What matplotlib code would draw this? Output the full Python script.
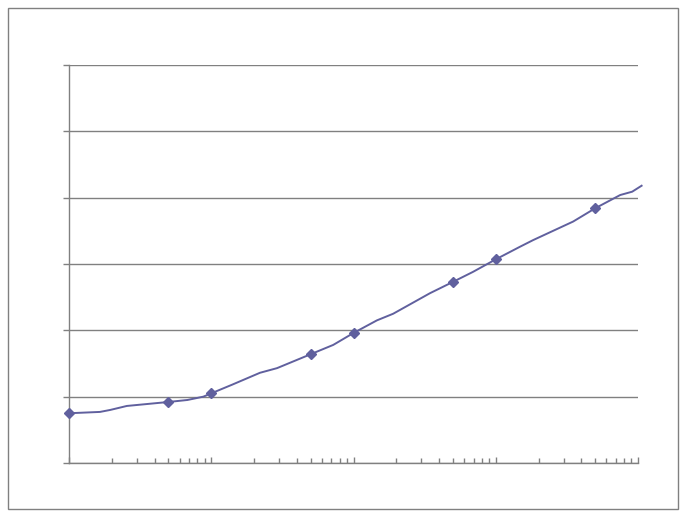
import matplotlib
matplotlib.use('Agg')
import matplotlib.pyplot as plt
from matplotlib.ticker import LogLocator, NullFormatter, MultipleLocator

# values (log x, linear y)
x_vals = [1, 1.65, 1.95, 2.55, 5, 6.8, 8.8, 10, 14, 22, 29, 50, 72, 100,
          146, 190, 345, 500, 690, 1000, 1480, 1830, 3500, 5000, 7500, 9100, 10600]
y_vals = [0.75, 0.77, 0.80, 0.86, 0.92, 0.95, 1.00, 1.05, 1.18, 1.36, 1.43, 1.64,
          1.78, 1.96, 2.15, 2.25, 2.56, 2.73, 2.88, 3.07, 3.26, 3.36, 3.64, 3.84,
          4.04, 4.09, 4.18]
marker_idx = [0, 4, 7, 11, 13, 17, 19, 23]

grey = '#808080'
line_col = '#60609e'

fig = plt.figure(figsize=(6.8, 5.12), dpi=100)
ax = fig.add_axes([69/680, 49/512, 569/680, 398/512])

ax.plot(x_vals, y_vals, color=line_col, lw=1.4, marker='D', ms=5.2,
        markevery=marker_idx, clip_on=False, zorder=3)

ax.set_xscale('log')
ax.set_xlim(1, 1e4)
ax.set_ylim(0, 6)

ax.yaxis.set_major_locator(MultipleLocator(1))
ax.grid(axis='y', color=grey, lw=1.0)
ax.set_axisbelow(True)

ax.xaxis.set_major_locator(LogLocator(base=10, numticks=10))
ax.xaxis.set_minor_locator(LogLocator(base=10, subs=range(2, 10), numticks=10))
ax.xaxis.set_major_formatter(NullFormatter())
ax.xaxis.set_minor_formatter(NullFormatter())
ax.yaxis.set_major_formatter(NullFormatter())

ax.tick_params(axis='x', which='major', direction='in', length=4.5, width=1, color=grey)
ax.tick_params(axis='x', which='minor', direction='in', length=3.5, width=1, color=grey)
ax.tick_params(axis='y', direction='out', length=4.5, width=1, color=grey)

ax.spines['top'].set_visible(False)
ax.spines['right'].set_visible(False)
for s in ['left', 'bottom']:
    ax.spines[s].set_color(grey)
    ax.spines[s].set_linewidth(1.0)

# outer frame around the chart area
fig.patches.append(plt.Rectangle((8/680, 3/512), 670/680, 501/512,
                                 transform=fig.transFigure, fill=False,
                                 ec=grey, lw=1.0))

fig.savefig('out.png', dpi=100)
